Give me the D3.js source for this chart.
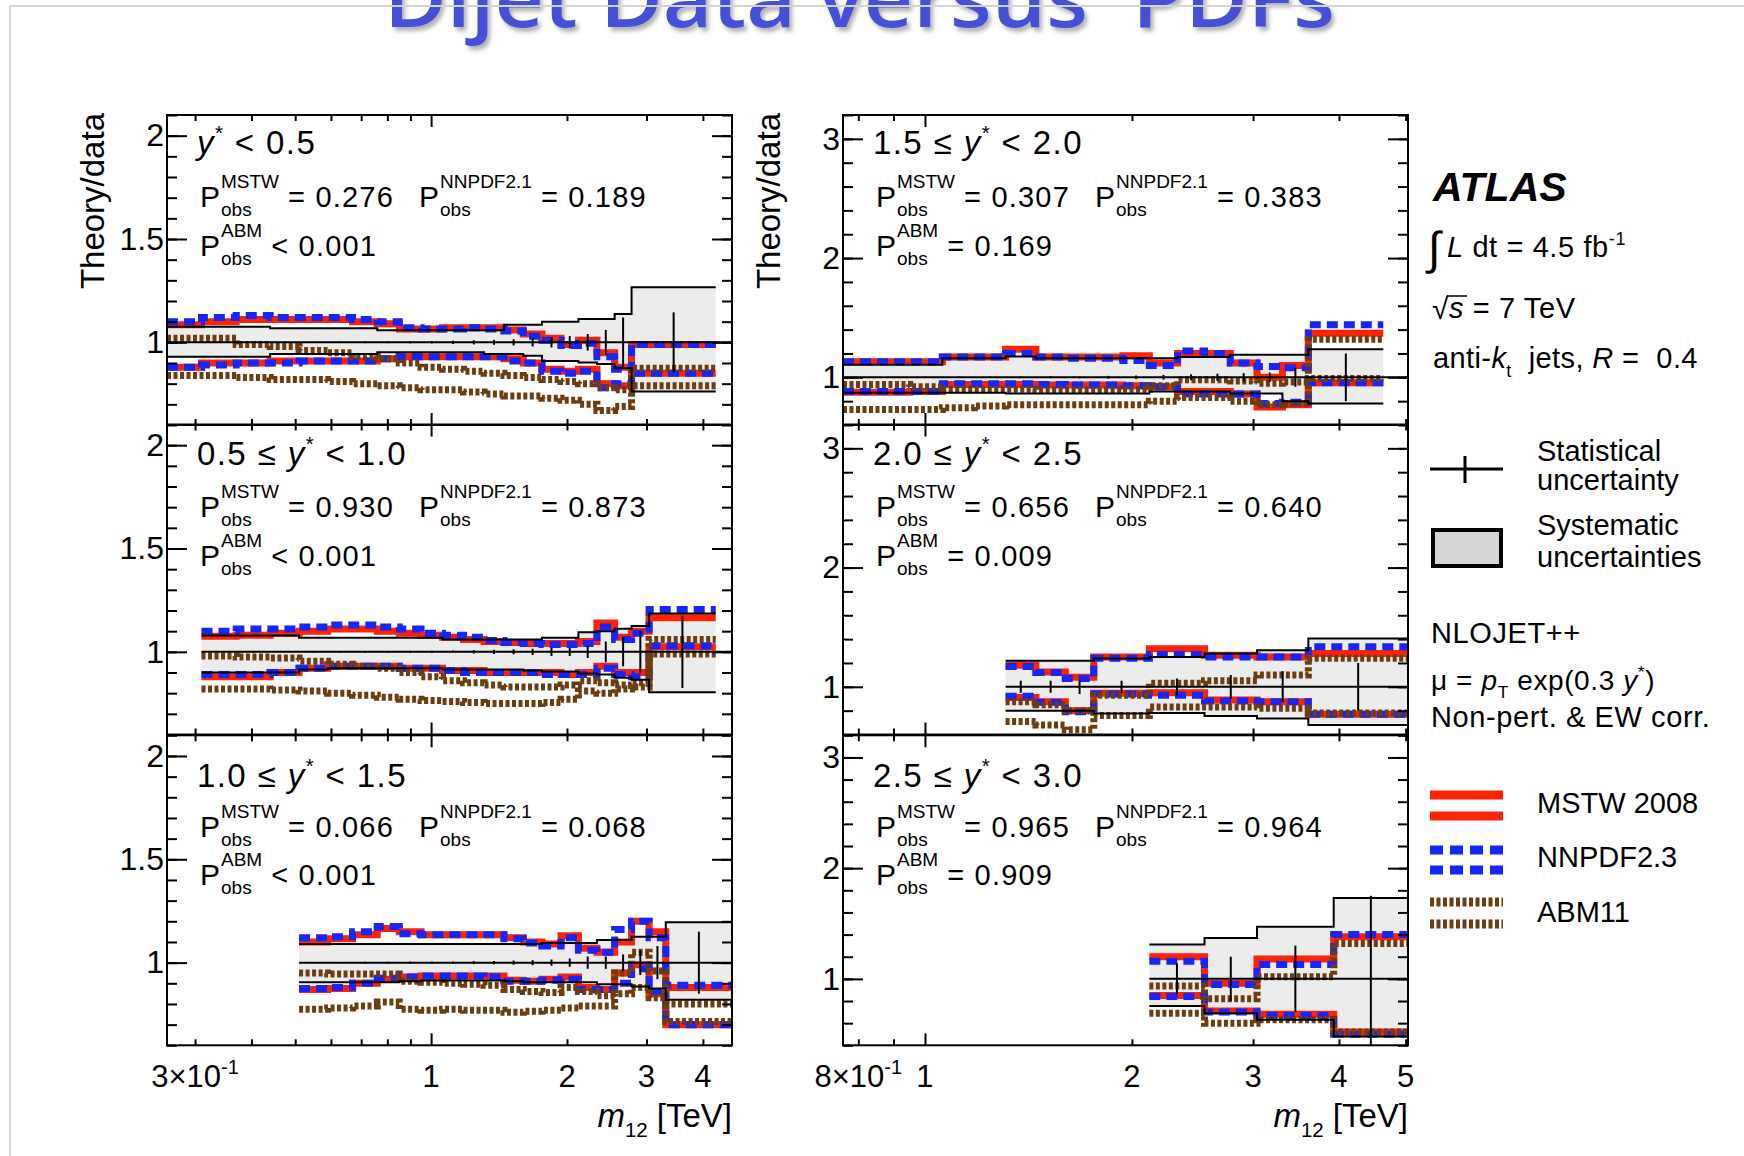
<!DOCTYPE html>
<html>
<head>
<meta charset="utf-8">
<title>Dijet Data versus PDFs</title>
<script src="https://cdn.jsdelivr.net/npm/d3@7/dist/d3.min.js"></script>
<style>
  body { margin: 0; background: #fff; }
  svg text { font-family: "Liberation Sans", Arial, Helvetica, sans-serif; white-space: pre; }
</style>
</head>
<body>
<svg id="chart" width="1744" height="1156"></svg>
<script>
// ---------------- data ----------------
// panels 0-2 : left column (y* < 1.5), panels 3-5 : right column
var rapLow  = [null, "0.5", "1.0", "1.5", "2.0", "2.5"];
var rapHigh = ["0.5", "1.0", "1.5", "2.0", "2.5", "3.0"];
var pMstw  = ["0.276", "0.930", "0.066", "0.307", "0.656", "0.965"];
var pNnpdf = ["0.189", "0.873", "0.068", "0.383", "0.640", "0.964"];
var pAbm   = ["< 0.001", "< 0.001", "< 0.001", "= 0.169", "= 0.009", "= 0.909"];

// m12 bin edges in TeV
var binEdges = [
  [0.26,0.31,0.37,0.44,0.51,0.59,0.67,0.76,0.85,0.95,1.06,1.18,1.31,1.45,1.60,1.76,1.94,2.12,2.33,2.55,2.78,4.27],
  [0.31,0.37,0.44,0.51,0.59,0.67,0.76,0.85,0.95,1.06,1.18,1.31,1.45,1.60,1.76,1.94,2.12,2.33,2.55,2.78,3.04,4.27],
  [0.51,0.59,0.67,0.76,0.85,0.95,1.06,1.18,1.31,1.45,1.60,1.76,1.94,2.12,2.33,2.55,2.78,3.04,3.31,4.64],
  [0.76,0.85,0.95,1.06,1.18,1.31,1.45,1.60,1.76,1.94,2.12,2.33,2.55,2.78,3.04,3.31,3.61,4.64],
  [1.31,1.45,1.60,1.76,2.12,2.55,3.04,3.61,5.04],
  [2.12,2.55,3.04,3.93,5.04]
];
// systematic uncertainty band (relative to data)
var sysUp = [
  [1.076,1.076,1.076,1.068,1.068,1.068,1.068,1.058,1.058,1.058,1.058,1.058,1.058,1.085,1.085,1.1,1.1,1.113,1.113,1.137,1.266],
  [1.079,1.079,1.079,1.068,1.068,1.068,1.068,1.068,1.068,1.06,1.06,1.06,1.06,1.06,1.068,1.068,1.095,1.1,1.112,1.125,1.185],
  [1.09,1.09,1.09,1.09,1.09,1.09,1.09,1.09,1.09,1.09,1.09,1.095,1.095,1.095,1.11,1.11,1.125,1.125,1.195],
  [1.105,1.105,1.105,1.16,1.16,1.175,1.16,1.16,1.16,1.16,1.16,1.17,1.17,1.19,1.19,1.19,1.235],
  [1.218,1.218,1.218,1.237,1.25,1.28,1.307,1.405],
  [1.31,1.37,1.47,1.73]
];
var sysDn = [
  [0.93,0.93,0.93,0.944,0.944,0.944,0.944,0.952,0.952,0.952,0.952,0.952,0.944,0.944,0.935,0.91,0.91,0.903,0.895,0.874,0.762],
  [0.9,0.9,0.9,0.915,0.92,0.92,0.92,0.92,0.92,0.915,0.915,0.915,0.915,0.91,0.905,0.905,0.895,0.89,0.875,0.865,0.805],
  [0.905,0.905,0.905,0.905,0.91,0.913,0.913,0.913,0.913,0.91,0.905,0.905,0.905,0.905,0.895,0.895,0.885,0.875,0.82],
  [0.87,0.87,0.87,0.87,0.87,0.865,0.865,0.865,0.865,0.865,0.88,0.88,0.88,0.865,0.865,0.8,0.78],
  [0.8,0.8,0.8,0.777,0.78,0.755,0.735,0.68],
  [0.755,0.69,0.63,0.48]
];
// statistical uncertainty (half length of the error bar)
var statErr = [
  [0.003,0.003,0.003,0.003,0.003,0.003,0.004,0.004,0.005,0.006,0.008,0.01,0.012,0.015,0.02,0.025,0.03,0.04,0.06,0.12,0.145],
  [0.003,0.003,0.003,0.003,0.003,0.004,0.004,0.005,0.005,0.006,0.008,0.01,0.012,0.015,0.02,0.02,0.03,0.05,0.07,0.1,0.175],
  [0.003,0.003,0.004,0.004,0.005,0.005,0.006,0.007,0.008,0.01,0.012,0.015,0.02,0.03,0.03,0.04,0.06,0.08,0.15],
  [0.004,0.004,0.005,0.005,0.006,0.007,0.008,0.01,0.012,0.015,0.02,0.025,0.03,0.035,0.04,0.08,0.2],
  [0.05,0.05,0.06,0.05,0.07,0.1,0.13,0.2],
  [0.14,0.2,0.3,0.75]
];
// theory / data, upper and lower edge of each PDF uncertainty band
var mstwUp = [
  [1.085,1.1,1.11,1.11,1.11,1.11,1.1,1.09,1.065,1.065,1.07,1.07,1.07,1.06,1.04,1.02,0.99,1.01,0.95,0.88,0.99],
  [1.075,1.08,1.09,1.1,1.11,1.11,1.1,1.09,1.08,1.07,1.06,1.05,1.045,1.04,1.04,1.04,1.05,1.14,1.07,1.1,1.165],
  [1.1,1.115,1.135,1.165,1.15,1.135,1.135,1.135,1.135,1.12,1.1,1.09,1.13,1.07,1.05,1.1,1.2,1.15,0.88],
  [1.13,1.13,1.13,1.17,1.17,1.235,1.17,1.17,1.17,1.18,1.12,1.2,1.2,1.12,1.0,1.1,1.37],
  [1.18,1.125,1.08,1.25,1.32,1.265,1.25,1.28],
  [1.2,0.96,1.18,1.38]
];
var mstwDn = [
  [0.88,0.9,0.9,0.91,0.91,0.91,0.91,0.92,0.93,0.93,0.93,0.93,0.93,0.92,0.9,0.87,0.86,0.87,0.8,0.79,0.85],
  [0.88,0.88,0.9,0.92,0.93,0.93,0.93,0.92,0.92,0.91,0.91,0.9,0.9,0.9,0.9,0.89,0.9,0.93,0.9,0.9,1.025],
  [0.87,0.875,0.9,0.92,0.93,0.935,0.935,0.935,0.935,0.915,0.91,0.92,0.93,0.88,0.87,0.95,0.99,0.85,0.7],
  [0.875,0.875,0.88,0.94,0.94,0.94,0.935,0.935,0.935,0.93,0.92,0.88,0.88,0.86,0.75,0.77,0.955],
  [0.91,0.875,0.8,0.945,0.95,0.89,0.875,0.77],
  [0.85,0.71,0.68,0.52]
];
var nnpdfUp = [
  [1.1,1.12,1.13,1.12,1.12,1.12,1.11,1.1,1.07,1.065,1.065,1.07,1.065,1.055,1.03,1.01,0.985,0.995,0.93,0.87,0.99],
  [1.1,1.11,1.11,1.12,1.13,1.13,1.12,1.11,1.09,1.08,1.07,1.055,1.045,1.04,1.035,1.035,1.04,1.12,1.06,1.09,1.205],
  [1.12,1.125,1.15,1.175,1.14,1.135,1.135,1.135,1.135,1.115,1.095,1.08,1.12,1.06,1.05,1.16,1.2,1.12,0.89],
  [1.13,1.13,1.13,1.17,1.17,1.2,1.17,1.16,1.16,1.14,1.1,1.22,1.2,1.12,1.09,1.08,1.44],
  [1.17,1.12,1.07,1.24,1.27,1.25,1.25,1.335],
  [1.16,0.95,1.13,1.4]
];
var nnpdfDn = [
  [0.88,0.89,0.9,0.9,0.91,0.91,0.91,0.92,0.93,0.93,0.93,0.93,0.93,0.91,0.9,0.86,0.85,0.86,0.78,0.8,0.85],
  [0.89,0.89,0.9,0.92,0.93,0.93,0.93,0.92,0.92,0.91,0.9,0.9,0.9,0.9,0.89,0.89,0.89,0.92,0.89,0.88,1.03],
  [0.875,0.88,0.9,0.925,0.93,0.935,0.935,0.935,0.93,0.91,0.91,0.915,0.92,0.87,0.87,0.9,0.97,0.86,0.7],
  [0.88,0.88,0.88,0.945,0.945,0.945,0.94,0.935,0.935,0.93,0.92,0.86,0.86,0.86,0.78,0.79,0.955],
  [0.92,0.87,0.79,0.94,0.93,0.88,0.875,0.77],
  [0.84,0.7,0.67,0.5]
];
var abmUp = [
  [1.02,1.02,0.99,0.98,0.96,0.95,0.93,0.92,0.9,0.88,0.87,0.86,0.85,0.84,0.83,0.82,0.81,0.8,0.78,0.77,0.875],
  [0.98,0.975,0.97,0.955,0.94,0.93,0.92,0.9,0.88,0.86,0.85,0.84,0.83,0.83,0.83,0.84,0.86,0.85,0.84,0.85,1.06],
  [0.95,0.945,0.945,0.945,0.91,0.905,0.9,0.895,0.89,0.87,0.86,0.855,0.88,0.86,0.84,0.95,1.05,0.96,0.8],
  [0.94,0.94,0.92,0.9,0.9,0.9,0.895,0.895,0.895,0.9,0.93,0.98,0.98,0.97,0.95,0.96,1.32],
  [0.875,0.85,0.8,0.93,1.03,1.05,1.1,1.24],
  [0.935,0.82,1.02,1.32]
];
var abmDn = [
  [0.84,0.84,0.83,0.82,0.82,0.81,0.8,0.79,0.78,0.77,0.77,0.76,0.75,0.74,0.74,0.73,0.72,0.7,0.67,0.69,0.79],
  [0.82,0.82,0.815,0.81,0.8,0.79,0.78,0.77,0.765,0.76,0.755,0.75,0.75,0.75,0.755,0.77,0.81,0.8,0.82,0.83,0.99],
  [0.775,0.78,0.79,0.81,0.775,0.77,0.775,0.77,0.77,0.76,0.765,0.77,0.78,0.79,0.79,0.85,0.88,0.83,0.715],
  [0.73,0.73,0.73,0.745,0.76,0.77,0.77,0.77,0.77,0.77,0.8,0.83,0.83,0.8,0.77,0.78,0.99],
  [0.71,0.68,0.64,0.76,0.83,0.83,0.82,0.78],
  [0.69,0.6,0.63,0.52]
];

// axis ranges and tick labels
var xRange = [[0.26, 4.64], [0.76, 5.04]];
var yRange = [[0.6, 2.1], [0.6, 2.1], [0.6, 2.1], [0.6, 3.2], [0.6, 3.2], [0.4, 3.2]];
var yMajor = [[1, 1.5, 2], [1, 2, 3]];
var yMinorStep = [0.1, 0.2];
var xMinor = [[0.3, 0.4, 0.5, 0.6, 0.7, 0.8, 0.9, 2, 3, 4], [0.8, 0.9, 2, 3, 4, 5]];
var xLabelVals = [[0.3, 1, 2, 3, 4], [0.8, 1, 2, 3, 4, 5]];
var xLabelText = [["3×10", "1", "2", "3", "4"], ["8×10", "1", "2", "3", "4", "5"]];

// ---------------- layout ----------------
var colX = [167, 843], panelW = 565;
var rowY = [115, 424.5, 735.3], panelH = 310;
var headBase = [39, 40.5, 51.5], pBase1 = [91.5, 92.5, 101.5], pBase2 = [140.5, 141.5, 150];

var cRed = "#ff2200", cBlue = "#1525ff", cBrown = "#6e3c0e";

var svg = d3.select("#chart");

var defs = svg.append("defs");
defs.append("filter").attr("id", "shadow").attr("x", "-5%").attr("y", "-50%").attr("width", "110%").attr("height", "200%")
  .append("feDropShadow").attr("dx", 3).attr("dy", 4).attr("stdDeviation", 2)
  .attr("flood-color", "#555").attr("flood-opacity", 0.45);

// title + slide frame
svg.append("text").attr("x", 384).attr("y", 27).attr("font-size", 80).attr("font-weight", 600)
  .style("font-family", "'Open Sans', 'Noto Sans', sans-serif")
  .attr("textLength", 951).attr("lengthAdjust", "spacingAndGlyphs")
  .attr("fill", "#4450d8").attr("filter", "url(#shadow)").text("Dijet Data versus  PDFs");
svg.append("line").attr("x1", 10).attr("x2", 1744).attr("y1", 6).attr("y2", 6)
  .attr("stroke", "#d4d4d4").attr("stroke-width", 2);
svg.append("line").attr("x1", 10).attr("x2", 10).attr("y1", 6).attr("y2", 1156)
  .attr("stroke", "#d4d4d4").attr("stroke-width", 2);

// text with italic / super / subscript parts
function richText(parent, x, y, size, parts, anchor, spacing) {
  var t = parent.append("text").attr("x", x).attr("y", y).attr("font-size", size)
    .attr("text-anchor", anchor || "start").attr("fill", "#000")
    .attr("letter-spacing", spacing || 0);
  var shift = 0;
  parts.forEach(function(p) {
    var want = p.sup ? -size * 0.42 : p.sub ? size * 0.3 : 0;
    var s = t.append("tspan").attr("dy", want - shift).text(p.t);
    shift = want;
    if (p.sup || p.sub) s.attr("font-size", size * 0.62);
    if (p.it) s.attr("font-style", "italic");
  });
  return t;
}

// P_obs^{name} = value
function pObs(g, x, y, name, rel) {
  var P = g.append("text").attr("x", x).attr("y", y).attr("font-size", 30).text("P");
  var pw = P.node().getComputedTextLength() + 1;
  var s = g.append("text").attr("x", x + pw).attr("y", y - 19).attr("font-size", 19).text(name);
  var o = g.append("text").attr("x", x + pw).attr("y", y + 9).attr("font-size", 19).text("obs");
  var w = Math.max(s.node().getComputedTextLength(), o.node().getComputedTextLength());
  g.append("text").attr("x", x + pw + w + 9).attr("y", y).attr("font-size", 29)
    .attr("letter-spacing", 1.2).text(rel);
}

function stepPts(edges, vals) {
  var pts = vals.map(function(v, i) { return [edges[i], v]; });
  pts.push([edges[edges.length - 1], vals[vals.length - 1]]);
  return pts;
}

for (var i = 0; i < 6; i++) {
  var col = Math.floor(i / 3), row = i % 3;
  var x = d3.scaleLog().domain(xRange[col]).range([0, panelW]);
  var y = d3.scaleLinear().domain(yRange[i]).range([panelH, 0]);
  var g = svg.append("g").attr("transform", "translate(" + colX[col] + "," + rowY[row] + ")");

  g.append("clipPath").attr("id", "clip" + i).append("rect")
    .attr("width", panelW).attr("height", panelH);
  var plot = g.append("g").attr("clip-path", "url(#clip" + i + ")");

  var edges = binEdges[i];
  var line = d3.line().curve(d3.curveStepAfter)
    .x(function(d) { return x(d[0]); }).y(function(d) { return y(d[1]); });
  var band = d3.area().curve(d3.curveStepAfter)
    .x(function(d) { return x(d[0]); })
    .y0(function(d) { return y(d[2]); }).y1(function(d) { return y(d[1]); });

  var bandPts = stepPts(edges, sysUp[i]).map(function(d, k) {
    return [d[0], d[1], sysDn[i][Math.min(k, sysDn[i].length - 1)]];
  });
  plot.append("path").attr("d", band(bandPts)).attr("fill", "#ececec");

  [mstwUp[i], mstwDn[i]].forEach(function(v) {
    plot.append("path").attr("d", line(stepPts(edges, v))).attr("fill", "none")
      .attr("stroke", cRed).attr("stroke-width", 7);
  });
  [nnpdfUp[i], nnpdfDn[i]].forEach(function(v) {
    plot.append("path").attr("d", line(stepPts(edges, v))).attr("fill", "none")
      .attr("stroke", cBlue).attr("stroke-width", 7).attr("stroke-dasharray", "11,6");
  });
  [abmUp[i], abmDn[i]].forEach(function(v) {
    plot.append("path").attr("d", line(stepPts(edges, v))).attr("fill", "none")
      .attr("stroke", cBrown).attr("stroke-width", 7).attr("stroke-dasharray", "4,2.5");
  });

  [sysUp[i], sysDn[i]].forEach(function(v) {
    plot.append("path").attr("d", line(stepPts(edges, v))).attr("fill", "none")
      .attr("stroke", "#000").attr("stroke-width", 2);
  });
  plot.append("line").attr("x1", x(edges[0])).attr("x2", panelW)
    .attr("y1", y(1)).attr("y2", y(1)).attr("stroke", "#000").attr("stroke-width", 2);

  plot.selectAll(".stat").data(statErr[i]).enter().append("line")
    .attr("x1", function(d, k) { return x(Math.sqrt(edges[k] * edges[k + 1])); })
    .attr("x2", function(d, k) { return x(Math.sqrt(edges[k] * edges[k + 1])); })
    .attr("y1", function(d) { return y(1 - d); }).attr("y2", function(d) { return y(1 + d); })
    .attr("stroke", "#000").attr("stroke-width", 2);

  // ticks on all four sides, pointing inward
  var minorY = d3.range(Math.ceil(yRange[i][0] / yMinorStep[col]) * yMinorStep[col], yRange[i][1] + 1e-6, yMinorStep[col]);
  [d3.axisLeft(y).tickValues(yMajor[col]).tickSize(-20).tickPadding(3).tickFormat(d3.format("")),
   d3.axisLeft(y).tickValues(minorY).tickSize(-10).tickFormat("")].forEach(function(a) {
    g.append("g").call(a).attr("font-size", 32).attr("font-family", null)
      .call(function(s) { s.select(".domain").remove(); });
  });
  [d3.axisRight(y).tickValues(yMajor[col]).tickSize(-20).tickFormat(""),
   d3.axisRight(y).tickValues(minorY).tickSize(-10).tickFormat("")].forEach(function(a) {
    g.append("g").attr("transform", "translate(" + panelW + ",0)").call(a)
      .call(function(s) { s.select(".domain").remove(); });
  });
  [[d3.axisBottom(x).tickValues([1]).tickSize(-12), panelH],
   [d3.axisBottom(x).tickValues(xMinor[col]).tickSize(-6), panelH],
   [d3.axisTop(x).tickValues([1]).tickSize(-12), 0],
   [d3.axisTop(x).tickValues(xMinor[col]).tickSize(-6), 0]].forEach(function(a) {
    g.append("g").attr("transform", "translate(0," + a[1] + ")").call(a[0].tickFormat(""))
      .call(function(s) { s.select(".domain").remove(); });
  });
  g.selectAll(".tick line").attr("stroke-width", 2);

  g.append("rect").attr("width", panelW).attr("height", panelH)
    .attr("fill", "none").attr("stroke", "#000").attr("stroke-width", 2);

  // panel labels
  var head = rapLow[i] === null
    ? [{t: "y", it: 1}, {t: "*", sup: 1}, {t: " < " + rapHigh[i]}]
    : [{t: rapLow[i] + " ≤ "}, {t: "y", it: 1}, {t: "*", sup: 1}, {t: " < " + rapHigh[i]}];
  richText(g, 30, headBase[row], 33, head, "start", 1.4);
  pObs(g, 33, pBase1[row], "MSTW", "= " + pMstw[i]);
  pObs(g, 252, pBase1[row], "NNPDF2.1", "= " + pNnpdf[i]);
  pObs(g, 33, pBase2[row], "ABM", pAbm[i]);

  if (row === 0) {
    g.append("text").attr("transform", "translate(-63,-2) rotate(-90)")
      .attr("text-anchor", "end").attr("font-size", 33).text("Theory/data");
  }
  if (row === 2) {
    xLabelVals[col].forEach(function(v, k) {
      var t = g.append("text").attr("x", x(v)).attr("y", panelH + 42).attr("font-size", 31)
        .attr("text-anchor", "middle").text(xLabelText[col][k]);
      if (k === 0) t.append("tspan").attr("dy", -13).attr("font-size", 20).text("-1");
    });
    richText(g, panelW, panelH + 82, 33,
      [{t: "m", it: 1}, {t: "12", sub: 1}, {t: " [TeV]"}], "end");
  }
}

// ---------------- legend / annotation column ----------------
var L = svg.append("g");
L.append("text").attr("x", 1433).attr("y", 201).attr("font-size", 41)
  .attr("font-weight", "bold").attr("font-style", "italic").text("ATLAS");
L.append("text").attr("x", 1428).attr("y", 264).attr("font-size", 46).text("∫");
richText(L, 1447, 257, 29, [{t: "L", it: 1}, {t: " dt = 4.5 fb"}, {t: "-1", sup: 1}], "start", 0.6);
L.append("text").attr("x", 1432).attr("y", 319).attr("font-size", 30).text("√");
L.append("line").attr("x1", 1447).attr("x2", 1467).attr("y1", 296).attr("y2", 296)
  .attr("stroke", "#000").attr("stroke-width", 1.5);
richText(L, 1449, 318, 29, [{t: "s", it: 1}, {t: " = 7 TeV"}], "start", 0.6);
richText(L, 1433, 368, 29, [{t: "anti-"}, {t: "k", it: 1}, {t: "t", sub: 1}, {t: "  jets, "}, {t: "R", it: 1}, {t: " =  0.4"}], "start", 0.4);

L.append("line").attr("x1", 1430).attr("x2", 1503).attr("y1", 469).attr("y2", 469)
  .attr("stroke", "#000").attr("stroke-width", 3);
L.append("line").attr("x1", 1465).attr("x2", 1465).attr("y1", 456).attr("y2", 483)
  .attr("stroke", "#000").attr("stroke-width", 3);
L.append("text").attr("x", 1537).attr("y", 461).attr("font-size", 29).text("Statistical");
L.append("text").attr("x", 1537).attr("y", 490).attr("font-size", 29).text("uncertainty");
L.append("rect").attr("x", 1433).attr("y", 530).attr("width", 68).attr("height", 36)
  .attr("fill", "#d6d6d6").attr("stroke", "#000").attr("stroke-width", 4);
L.append("text").attr("x", 1537).attr("y", 535).attr("font-size", 29).text("Systematic");
L.append("text").attr("x", 1537).attr("y", 567).attr("font-size", 29).text("uncertainties");

L.append("text").attr("x", 1431).attr("y", 643).attr("font-size", 29).attr("letter-spacing", 0.6).text("NLOJET++");
richText(L, 1431, 690, 28, [{t: "μ = "}, {t: "p", it: 1}, {t: "T", sub: 1}, {t: " exp(0.3 "}, {t: "y", it: 1}, {t: "*", sup: 1}, {t: ")"}], "start", 0.6);
L.append("text").attr("x", 1431).attr("y", 727).attr("font-size", 29).attr("letter-spacing", 0.6).text("Non-pert. & EW corr.");

var legendItems = [
  {name: "MSTW 2008", color: cRed, dash: null, ys: [795, 816], ty: 813},
  {name: "NNPDF2.3", color: cBlue, dash: "13,7", ys: [850, 870], ty: 867},
  {name: "ABM11", color: cBrown, dash: "4,2.5", ys: [902, 924], ty: 922}
];
legendItems.forEach(function(it) {
  it.ys.forEach(function(yy) {
    L.append("line").attr("x1", 1430).attr("x2", 1503).attr("y1", yy).attr("y2", yy)
      .attr("stroke", it.color).attr("stroke-width", 9).attr("stroke-dasharray", it.dash);
  });
  L.append("text").attr("x", 1537).attr("y", it.ty).attr("font-size", 29).text(it.name);
});
</script>
</body>
</html>
